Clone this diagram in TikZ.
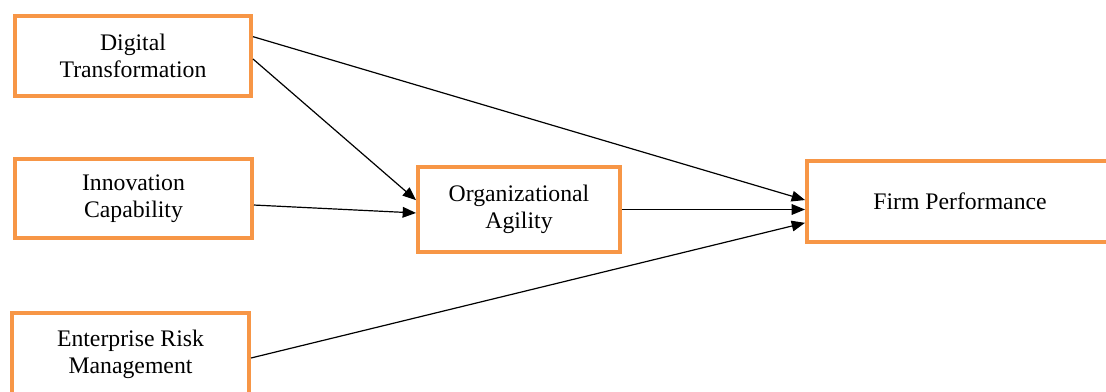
\documentclass[tikz,border=0pt]{standalone}
\usepackage{fontspec}
\setmainfont{Liberation Serif}
\usetikzlibrary{arrows.meta}
\definecolor{boxorange}{HTML}{F79646}
\begin{document}
\begin{tikzpicture}[x=0.75pt,y=-0.75pt,
  varbox/.style={draw=boxorange, line width=3pt, fill=white, align=center,
    inner sep=0pt, font=\fontsize{17.8}{20.3}\selectfont},
  link/.style={draw=black, line width=0.9pt, -{Triangle[length=10pt,width=8pt]}}]
\path[use as bounding box] (0,0) rectangle (1106,392);
\clip (0,0) rectangle (1106,392);
\fill[white] (0,0) rectangle (1106,392);
\node[varbox, minimum width=177pt, minimum height=60pt] (dt) at (133,56) {Digital\\Transformation};
\node[varbox, minimum width=177.75pt, minimum height=59.25pt] (ic) at (133.5,198.5) {Innovation\\Capability};
\node[varbox, minimum width=177.75pt, minimum height=61.5pt] (erm) at (130.5,354) {Enterprise Risk\\Management};
\node[varbox, minimum width=151.5pt, minimum height=63.75pt] (oa) at (519,209.5) {Organizational\\Agility};
\node[varbox, minimum width=229.5pt, minimum height=60.75pt] (fp) at (960,201.5) {Firm Performance};
\draw[link] ([yshift=14.5pt]dt.east) -- ([yshift=1.1pt]fp.west);
\draw[link] ([yshift=-2.25pt]dt.east) -- ([yshift=7pt]oa.west);
\draw[link] ([yshift=-4.9pt]ic.east) -- ([yshift=-2.6pt]oa.west);
\draw[link] (oa.east) -- (oa.east -| fp.west);
\draw[link] ([yshift=-3pt]erm.east) -- ([yshift=-16pt]fp.west);
\end{tikzpicture}
\end{document}
